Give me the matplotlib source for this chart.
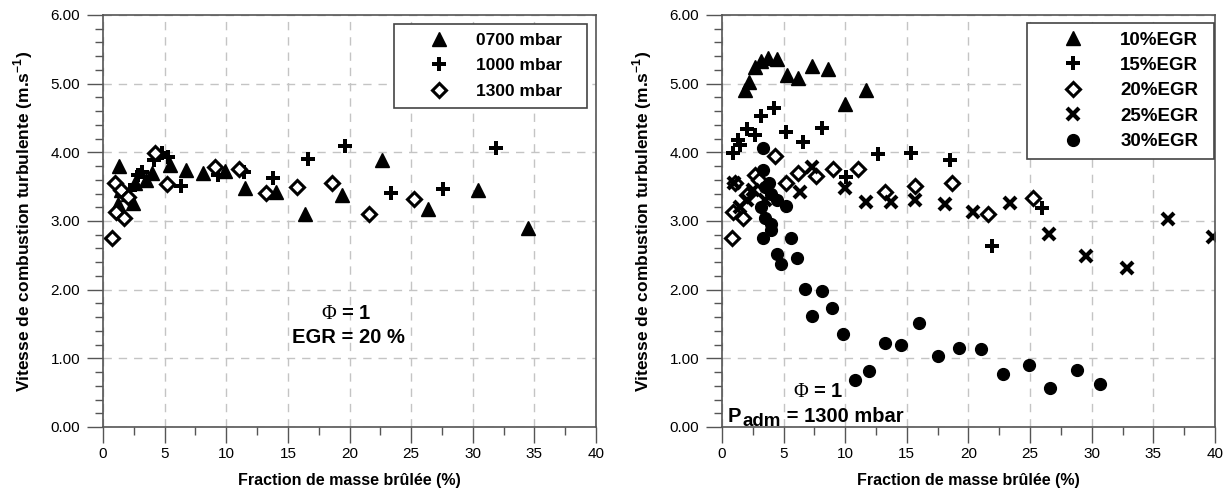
import numpy as np
import matplotlib
matplotlib.use("Agg")
import matplotlib.pyplot as plt
from matplotlib.ticker import MultipleLocator, FormatStrFormatter

plt.rcParams["font.family"] = ["Liberation Sans", "DejaVu Sans"]
plt.rcParams["mathtext.fontset"] = "custom"
plt.rcParams["mathtext.rm"] = "Liberation Serif"
plt.rcParams["mathtext.bf"] = "Liberation Sans:bold"

# ── panel 1 : EGR = 20 %, three intake pressures ─────────────
x_0700 = [1.3, 1.2, 1.5, 2.0, 2.4, 2.6, 3.5, 4.0, 5.4, 6.7, 8.1, 9.9,
          11.5, 14.0, 16.4, 19.4, 22.6, 26.4, 30.4, 34.5]
y_0700 = [3.80, 3.25, 3.45, 3.40, 3.26, 3.55, 3.60, 3.70, 3.81, 3.74, 3.70, 3.73,
          3.48, 3.42, 3.10, 3.38, 3.89, 3.17, 3.45, 2.90]

x_1000 = [1.8, 2.2, 2.8, 3.2, 4.1, 4.8, 5.3, 6.3, 9.3, 11.4, 13.8, 16.6,
          19.6, 23.4, 27.6, 31.9]
y_1000 = [3.40, 3.45, 3.67, 3.71, 3.89, 3.99, 3.93, 3.51, 3.67, 3.71, 3.62, 3.90,
          4.09, 3.41, 3.46, 4.07]

x_1300 = [0.75, 1.05, 1.0, 1.5, 1.7, 2.0, 4.2, 5.2, 9.1, 11.0, 13.2, 15.7,
          18.6, 21.6, 25.2]
y_1300 = [2.75, 3.13, 3.55, 3.45, 3.05, 3.35, 3.99, 3.54, 3.78, 3.75, 3.41, 3.50,
          3.56, 3.10, 3.32]

# ── panel 2 : P_adm = 1300 mbar, five EGR rates ──────────────
x_egr10 = [1.9, 2.2, 2.7, 3.2, 3.7, 4.5, 5.3, 6.2, 7.3, 8.6, 10.0, 11.7]
y_egr10 = [4.91, 5.02, 5.24, 5.33, 5.37, 5.36, 5.13, 5.08, 5.26, 5.22, 4.70, 4.91]

x_egr15 = [0.9, 1.3, 1.5, 2.0, 2.7, 3.2, 4.2, 5.2, 6.6, 8.1, 10.1, 12.7,
           15.3, 18.5, 21.9, 26.0]
y_egr15 = [3.99, 4.18, 4.11, 4.34, 4.25, 4.53, 4.65, 4.29, 4.15, 4.35, 3.64, 3.97,
           3.99, 3.89, 2.64, 3.19]

x_egr20 = [0.8, 0.9, 1.05, 1.7, 2.0, 2.7, 3.0, 4.3, 5.2, 6.2, 7.6, 9.0,
           11.0, 13.2, 15.7, 18.7, 21.6, 25.2]
y_egr20 = [2.75, 3.13, 3.55, 3.04, 3.38, 3.67, 3.60, 3.95, 3.55, 3.70, 3.66, 3.76,
           3.76, 3.42, 3.51, 3.55, 3.10, 3.33]

x_egr25 = [1.0, 1.5, 2.0, 2.5, 3.5, 6.3, 7.3, 10.0, 11.7, 13.7, 15.7, 18.1,
           20.4, 23.4, 26.5, 29.5, 32.9, 36.2, 39.8]
y_egr25 = [3.55, 3.20, 3.30, 3.45, 3.30, 3.42, 3.79, 3.48, 3.28, 3.28, 3.31, 3.25,
           3.13, 3.26, 2.81, 2.49, 2.32, 3.03, 2.77]

x_egr30 = [3.3, 3.3, 3.5, 3.8, 3.2, 4.0, 4.5, 3.5, 4.0, 4.0, 5.2, 3.3,
           5.6, 4.5, 4.8, 6.1, 6.7, 8.1, 7.3, 8.9, 9.8, 10.8, 11.9, 13.2,
           14.5, 16.0, 17.5, 19.2, 21.0, 22.8, 24.9, 26.6, 28.8, 30.7]
y_egr30 = [4.06, 3.74, 3.50, 3.55, 3.20, 3.40, 3.30, 3.04, 2.96, 2.87, 3.22, 2.75,
           2.75, 2.52, 2.37, 2.46, 2.01, 1.98, 1.62, 1.73, 1.35, 0.68, 0.81, 1.22,
           1.20, 1.51, 1.03, 1.15, 1.14, 0.77, 0.91, 0.57, 0.83, 0.63]

XLABEL = "Fraction de masse brûlée (%)"
YLABEL = r"Vitesse de combustion turbulente (m.s$^{\mathbf{-1}}$)"

MK = {
    "tri":  dict(marker="^", ms=10.5, mfc="black", mec="black"),
    "plus": dict(marker="P", ms=9.5, mfc="black", mec="black", mew=0),
    "dia":  dict(marker="D", ms=7, mfc="white", mec="black", mew=2.2),
    "x":    dict(marker="x", ms=8.5, mec="black", mew=3),
    "dot":  dict(marker="o", ms=8.5, mfc="black", mec="black"),
}
ANN_FS = 14.5


def style_axes(ax):
    ax.set_xlim(0, 40)
    ax.set_ylim(0, 6)
    ax.xaxis.set_major_locator(MultipleLocator(5))
    ax.xaxis.set_minor_locator(MultipleLocator(2.5))
    ax.yaxis.set_major_locator(MultipleLocator(1))
    ax.yaxis.set_minor_locator(MultipleLocator(0.2))
    ax.yaxis.set_major_formatter(FormatStrFormatter("%.2f"))
    ax.tick_params(which="major", direction="out", length=11.5, width=1,
                   color="#555555", labelsize=11)
    ax.tick_params(axis="y", which="major", pad=5)
    ax.tick_params(axis="x", which="major", pad=3)
    ax.tick_params(which="minor", direction="out", length=5.5, width=1,
                   color="#555555")
    ax.grid(True, which="major", ls=(0, (6, 5)), color="#c4c4c4", lw=1)
    ax.set_axisbelow(True)
    for s in ax.spines.values():
        s.set_color("#555555")
        s.set_linewidth(1.2)
    ax.set_xlabel(XLABEL, fontsize=11.5, fontweight="bold", labelpad=8.5)
    ax.set_ylabel(YLABEL, fontsize=12.5, fontweight="bold", labelpad=11)


def add_legend(ax, box, fs, hlen, tpad, lsp, bpad):
    # mode="expand" stretches the frame to the box width, text stays left
    leg = ax.legend(loc="upper right", bbox_to_anchor=box, mode="expand",
                    prop=dict(weight="bold", size=fs), fancybox=False,
                    edgecolor="#444444", framealpha=1, handlelength=hlen,
                    handletextpad=tpad, borderpad=bpad, labelspacing=lsp,
                    borderaxespad=0)
    leg.get_frame().set_linewidth(1.2)
    return leg


fig = plt.figure(figsize=(12.32, 4.9), dpi=100)
ax1 = fig.add_axes([0.0836, 0.1286, 0.4002, 0.8408])
ax2 = fig.add_axes([0.5860, 0.1286, 0.4002, 0.8408])

# ── panel 1 ──
ax1.plot(x_0700, y_0700, ls="none", label="0700 mbar", **MK["tri"])
ax1.plot(x_1000, y_1000, ls="none", label="1000 mbar", **MK["plus"])
ax1.plot(x_1300, y_1300, ls="none", label="1300 mbar", **MK["dia"])
style_axes(ax1)
add_legend(ax1, (0.590, 0.5, 0.392, 0.478), 12.5, 4.2, 0.0, 0.59, 0.51)
ax1.text(19.7, 1.66, r"$\Phi$ = 1", ha="center", va="center",
         fontsize=ANN_FS, fontweight="bold")
ax1.text(19.9, 1.31, "EGR = 20 %", ha="center", va="center",
         fontsize=ANN_FS, fontweight="bold")

# ── panel 2 ──
ax2.plot(x_egr10, y_egr10, ls="none", label="10%EGR", **MK["tri"])
ax2.plot(x_egr15, y_egr15, ls="none", label="15%EGR", **MK["plus"])
ax2.plot(x_egr20, y_egr20, ls="none", label="20%EGR", **MK["dia"])
ax2.plot(x_egr25, y_egr25, ls="none", label="25%EGR", **MK["x"])
ax2.plot(x_egr30, y_egr30, ls="none", label="30%EGR", **MK["dot"])
style_axes(ax2)
add_legend(ax2, (0.619, 0.4, 0.379, 0.581), 13.5, 4.0, 0.51, 0.44, 0.46)
ax2.text(7.8, 0.51, r"$\Phi$ = 1", ha="center", va="center",
         fontsize=ANN_FS, fontweight="bold")

# "P" + lowered "adm" + "= 1300 mbar", placed one after the other
r = fig.canvas.get_renderer()
px2pt = 72.0 / fig.dpi
p_txt = ax2.text(0.49, 0.073, "P", ha="left", va="baseline",
                 fontsize=ANN_FS, fontweight="bold")
w_p = p_txt.get_window_extent(r).width * px2pt
sub = ax2.annotate("adm", xy=(0.49, 0.073), xytext=(w_p + 0.5, -3),
                   textcoords="offset points", ha="left", va="baseline",
                   fontsize=ANN_FS - 1, fontweight="bold")
w_s = sub.get_window_extent(r).width * px2pt
ax2.annotate(" = 1300 mbar", xy=(0.49, 0.073), xytext=(w_p + w_s + 0.5, 0),
             textcoords="offset points", ha="left", va="baseline",
             fontsize=ANN_FS, fontweight="bold")

fig.savefig("out.png", dpi=100)
